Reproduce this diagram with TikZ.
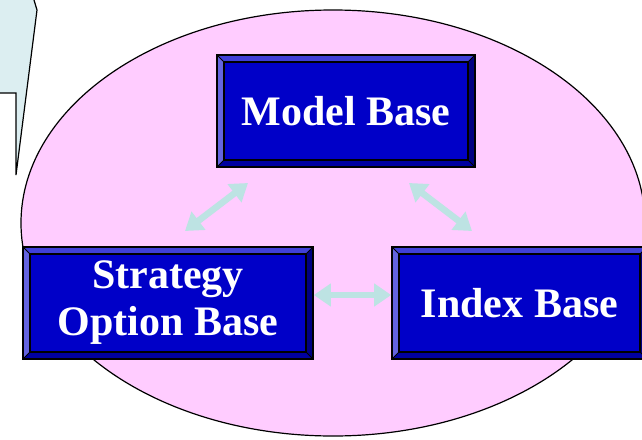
\documentclass[tikz,border=0pt]{standalone}
\usepackage{fontspec}
\setmainfont{Liberation Serif}
\usetikzlibrary{arrows.meta,calc}
\definecolor{pinkfill}{RGB}{255,204,255}
\definecolor{callfill}{RGB}{220,238,241}
\definecolor{facec}{RGB}{0,0,200}
\definecolor{topc}{RGB}{64,64,216}
\definecolor{leftc}{RGB}{100,100,224}
\definecolor{rightc}{RGB}{0,0,130}
\definecolor{botc}{RGB}{0,0,160}
\definecolor{arrc}{RGB}{189,227,227}
\newlength{\bev}
\setlength{\bev}{7pt}
\tikzset{
  bevelbox/.style={draw=black, line width=1.6pt, fill=facec, inner sep=0pt,
    font=\bfseries\fontsize{42}{47}\selectfont, text=white, align=center,
    path picture={
      \coordinate (NW) at (path picture bounding box.north west);
      \coordinate (NE) at (path picture bounding box.north east);
      \coordinate (SW) at (path picture bounding box.south west);
      \coordinate (SE) at (path picture bounding box.south east);
      \coordinate (iNW) at ($(NW)+(\bev,-\bev)$);
      \coordinate (iNE) at ($(NE)+(-\bev,-\bev)$);
      \coordinate (iSW) at ($(SW)+(\bev,\bev)$);
      \coordinate (iSE) at ($(SE)+(-\bev,\bev)$);
      \fill[topc] (NW) -- (NE) -- (iNE) -- (iNW) -- cycle;
      \fill[leftc] (NW) -- (iNW) -- (iSW) -- (SW) -- cycle;
      \fill[rightc] (NE) -- (SE) -- (iSE) -- (iNE) -- cycle;
      \fill[botc] (SW) -- (SE) -- (iSE) -- (iSW) -- cycle;
      \draw[black, line width=1.4pt] (iNW) rectangle (iSE);
      \draw[black, line width=1pt] (NW) -- (iNW) (NE) -- (iNE) (SW) -- (iSW) (SE) -- (iSE);
    }},
  linkarrow/.style={draw=arrc, line width=6.5pt,
    {Triangle[width=22pt,length=17pt]}-{Triangle[width=22pt,length=17pt]}}
}
\begin{document}
\begin{tikzpicture}[x=1pt,y=1pt]
\useasboundingbox (0,0) rectangle (642,-439);
\clip (0,0) rectangle (642,-439);
% callout
\draw[fill=callfill, line width=1.2pt, line join=miter]
  (-5,5) -- (34,5) -- (34,0) -- (37,-10) -- (16,-175) -- (16,-93) -- (-5,-93);
% ellipse
\draw[fill=pinkfill, line width=1.2pt] (333,-223) ellipse [x radius=312, y radius=213];
% boxes
\node[bevelbox, minimum width=258pt, minimum height=112pt] (model) at (346,-111) {Model Base};
\node[bevelbox, minimum width=290pt, minimum height=112pt] (strat) at (168,-303) {Strategy\\Option Base};
\node[bevelbox, minimum width=255pt, minimum height=112pt] (index) at (519.5,-303) {Index Base};
% arrows
\coordinate (a1) at (185,-231);
\coordinate (a2) at (248,-183);
\coordinate (b1) at (409,-183);
\coordinate (b2) at (472,-231);
\draw[linkarrow] (a1) -- (a2);
\draw[linkarrow] (b1) -- (b2);
\draw[linkarrow] ([yshift=8pt]strat.east) -- ([yshift=8pt]index.west);
\end{tikzpicture}
\end{document}
